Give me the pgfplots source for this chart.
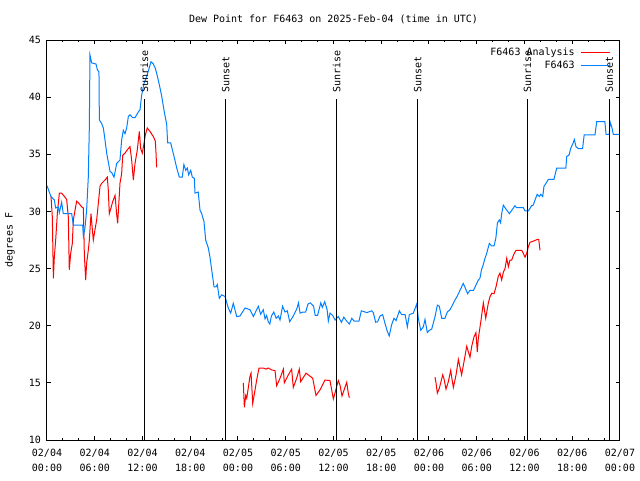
\documentclass[border=0pt]{standalone}
\usepackage{fontspec}
\setmainfont{DejaVu Sans Mono}
\usepackage{pgfplots}
\pgfplotsset{compat=1.18}
\definecolor{gpred}{RGB}{255,0,0}
\definecolor{gpblue}{RGB}{0,128,255}
\newcommand{\gpfont}{\fontsize{7.5pt}{9.75pt}\selectfont}
\begin{document}
\begin{tikzpicture}[font=\gpfont]
\path[use as bounding box] (0,0) rectangle (480pt,360pt);
\begin{axis}[
  at={(35.25pt,30pt)}, anchor=south west,
  scale only axis, width=429.75pt, height=300pt,
  xmin=0, xmax=72, ymin=10, ymax=45,
  xtick={0,6,...,72},
  minor xtick={2,4,8,10,14,16,20,22,26,28,32,34,38,40,44,46,50,52,56,58,62,64,68,70},
  xticklabels={{02/04\\[1.5pt]00:00},{02/04\\[1.5pt]06:00},{02/04\\[1.5pt]12:00},{02/04\\[1.5pt]18:00},{02/05\\[1.5pt]00:00},{02/05\\[1.5pt]06:00},{02/05\\[1.5pt]12:00},{02/05\\[1.5pt]18:00},{02/06\\[1.5pt]00:00},{02/06\\[1.5pt]06:00},{02/06\\[1.5pt]12:00},{02/06\\[1.5pt]18:00},{02/07\\[1.5pt]00:00}},
  xticklabel style={align=center, font=\gpfont, yshift=-3.5pt},
  yticklabel style={font=\gpfont, xshift=-1pt},
  ytick={10,15,...,45},
  /pgf/number format/assume math mode=true,
  tick align=inside,
  major tick length=3pt, minor tick length=1.5pt,
  tick style={black, line width=0.75pt},
  axis line style={black, line width=0.75pt},
  title={Dew Point for F6463 on 2025-Feb-04 (time in UTC)},
  title style={at={(0.5,1)}, anchor=center, yshift=9.75pt, font=\gpfont},
  ylabel={degrees F},
  ylabel style={at={(axis description cs:0,0.5)}, anchor=center, yshift=27.75pt, font=\gpfont},
  legend style={draw=none, fill=none, at={(rel axis cs:1,1)}, anchor=north east,
    xshift=-3.75pt, yshift=-2pt, row sep=0pt, column sep=3pt, font=\gpfont,
    nodes={inner sep=1.5pt}},
  legend cell align=right,
  legend plot pos=right,
  legend image code/.code={\draw[#1] (0pt,0pt) -- (21.75pt,0pt);},
  unbounded coords=jump,
]
\addplot[gpred, line width=0.75pt] coordinates {
(0.50,31.35) (0.67,29.5) (0.80,24.15) (0.92,26.0) (1.09,27.5) (1.30,29.8) (1.55,31.6) (1.84,31.6) (2.14,31.35) (2.47,31.06) (2.68,29.5) (2.80,24.9) (2.97,26.3) (3.18,27.2) (3.31,29.25) (3.52,30.1) (3.73,30.9) (4.02,30.7) (4.36,30.4) (4.57,30.3) (4.69,26.3) (4.86,24.0) (4.98,25.46) (5.19,26.6) (5.32,27.5) (5.53,29.8) (5.70,28.4) (5.82,27.5) (6.03,28.4) (6.24,29.25) (6.45,30.7) (6.66,32.2) (6.87,32.46) (7.29,32.75) (7.58,33.0) (7.70,31.9) (7.83,29.8) (8.04,30.3) (8.25,30.85) (8.55,31.4) (8.76,29.7) (8.88,28.95) (9.05,31.0) (9.17,32.46) (9.38,33.3) (9.51,34.9) (9.80,35.1) (10.10,35.4) (10.43,35.67) (10.64,34.5) (10.85,32.75) (11.06,34.2) (11.35,35.4) (11.60,37.0) (11.77,35.5) (11.98,35.1) (12.19,35.96) (12.36,36.7) (12.60,37.3) (12.94,37.0) (13.36,36.55) (13.61,36.16) (13.70,35.1) (13.78,33.85)
(14.0,nan)
(24.67,15.0) (24.80,12.85) (24.97,13.9) (25.10,13.65) (25.50,15.55) (25.64,15.85) (25.85,13.2) (26.14,14.38) (26.35,15.25) (26.64,16.3) (27.18,16.3) (27.52,16.2) (27.81,16.3) (28.23,16.13) (28.65,16.07) (28.86,14.75) (29.28,15.4) (29.70,16.2) (29.82,15.0) (30.33,15.7) (30.74,16.2) (30.95,14.6) (31.37,15.4) (31.70,16.2) (31.88,15.1) (32.55,15.85) (32.84,15.7) (33.39,15.4) (33.80,13.9) (34.30,14.38) (34.93,15.25) (35.56,15.2) (35.98,13.6) (36.19,14.1) (36.40,14.67) (36.60,15.2) (36.82,14.8) (37.07,13.85) (37.66,15.05) (37.86,14.1) (37.99,13.7)
(40.0,nan)
(48.76,15.5) (48.88,15.0) (49.05,14.1) (49.30,14.53) (49.47,15.0) (49.72,15.7) (49.89,15.34) (50.14,14.45) (50.43,15.1) (50.73,16.1) (50.85,15.5) (51.06,14.6) (51.40,15.7) (51.69,17.05) (51.90,16.36) (52.10,15.7) (52.40,16.86) (52.74,18.2) (52.94,17.73) (53.15,17.24) (53.37,18.2) (53.66,19.04) (53.90,19.4) (54.07,17.7) (54.20,18.9) (54.50,20.3) (54.83,22.0) (55.13,20.65) (55.46,22.0) (55.67,22.55) (55.88,22.84) (56.17,22.8) (56.42,23.4) (56.70,24.3) (56.92,24.6) (57.13,24.0) (57.34,24.68) (57.55,25.0) (57.77,25.9) (57.97,25.17) (58.18,25.75) (58.39,25.75) (58.68,26.28) (58.94,26.6) (59.65,26.6) (59.85,26.33) (60.07,26.0) (60.28,26.33) (60.48,26.9) (60.69,27.3) (61.11,27.4) (61.60,27.55) (61.79,27.55) (61.95,26.6)
};
\addlegendentry{F6463 Analysis}
\addplot[gpblue, line width=0.75pt] coordinates {
(0.00,32.25) (0.50,31.3) (0.92,31.0) (1.09,30.3) (1.42,30.4) (1.55,29.9) (1.84,30.8) (2.05,29.8) (3.10,29.8) (3.31,28.8) (4.48,28.8) (4.57,27.8) (4.78,28.6) (4.98,30.1) (5.19,33.0) (5.32,37.4) (5.40,43.7) (5.61,43.0) (6.16,42.9) (6.33,42.4) (6.53,42.2) (6.58,38.0) (6.87,37.7) (7.08,37.3) (7.29,36.25) (7.50,35.1) (7.92,33.5) (8.13,33.4) (8.42,33.0) (8.76,34.2) (9.17,34.5) (9.38,36.25) (9.59,37.1) (9.80,36.8) (10.01,37.3) (10.22,38.3) (10.43,38.45) (10.77,38.2) (11.06,38.2) (11.47,38.7) (11.69,38.9) (11.90,40.2) (12.19,41.2) (12.53,41.8) (13.07,43.1) (13.36,42.9) (13.57,42.6) (13.78,42.1) (14.11,41.1) (14.41,40.1) (14.74,38.7) (15.04,37.6) (15.16,36.0) (15.54,36.0) (15.75,35.4) (16.00,34.7) (16.30,33.8) (16.63,33.0) (17.00,33.0) (17.20,34.1) (17.43,33.6) (17.63,33.8) (17.80,33.2) (18.06,33.6) (18.26,33.0) (18.51,32.9) (18.60,31.6) (19.00,31.7) (19.23,30.1) (19.44,29.8) (19.73,29.1) (19.94,27.5) (20.27,26.8) (20.48,26.0) (20.69,24.9) (20.99,23.4) (21.24,23.4) (21.40,23.6) (21.65,22.4) (21.95,22.7) (22.37,22.55) (22.78,21.55) (23.08,21.1) (23.41,21.96) (23.84,20.8) (24.25,20.85) (24.88,21.55) (25.51,21.4) (25.93,20.8) (26.55,21.7) (26.85,21.0) (27.18,21.4) (27.40,20.6) (27.60,20.9) (27.80,20.35) (28.00,20.15) (28.20,20.85) (28.50,21.2) (28.80,20.65) (29.07,20.85) (29.28,20.5) (29.60,21.7) (29.90,21.2) (30.20,21.3) (30.50,20.35) (30.95,20.85) (31.40,21.5) (31.60,22.0) (31.80,21.1) (32.20,21.2) (32.50,21.2) (32.80,21.9) (33.10,22.0) (33.50,21.7) (33.70,20.9) (34.00,20.9) (34.40,22.0) (34.60,21.6) (34.90,22.1) (35.20,21.4) (35.35,20.4) (35.56,21.1) (35.90,20.9) (36.20,20.5) (36.60,20.8) (37.00,20.3) (37.30,20.75) (37.66,20.4) (38.00,20.15) (38.30,20.65) (38.60,20.4) (39.20,20.4) (39.50,21.3) (40.20,21.15) (40.80,21.3) (41.00,21.15) (41.30,20.3) (41.55,20.35) (41.85,20.85) (42.18,20.97) (42.47,20.2) (42.77,19.5) (43.00,19.1) (43.30,20.07) (43.60,20.65) (43.86,20.45) (44.28,21.3) (44.57,20.97) (45.00,20.97) (45.28,19.9) (45.53,20.97) (46.03,21.1) (46.46,21.9) (46.66,20.65) (46.96,19.6) (47.29,19.9) (47.50,20.55) (47.79,19.4) (48.04,19.6) (48.34,19.7) (48.76,20.8) (49.05,21.8) (49.30,21.7) (49.60,20.65) (50.00,20.65) (50.30,21.2) (50.64,21.4) (51.06,21.96) (51.27,22.25) (51.56,22.6) (51.90,23.1) (52.10,23.4) (52.30,23.7) (52.50,23.4) (52.85,22.8) (53.15,23.1) (53.60,23.1) (54.20,24.0) (54.40,24.15) (54.60,24.9) (54.80,25.3) (55.04,25.9) (55.25,26.33) (55.58,27.2) (55.88,26.98) (56.17,26.98) (56.40,27.65) (56.60,29.0) (56.84,29.25) (57.00,29.0) (57.13,29.8) (57.34,30.55) (57.68,30.2) (58.10,29.8) (58.40,30.1) (58.80,30.5) (59.00,30.33) (59.85,30.33) (60.07,30.04) (60.48,30.04) (60.90,30.5) (61.10,30.55) (61.32,31.0) (61.60,31.5) (61.86,31.3) (62.04,31.5) (62.29,31.3) (62.45,32.2) (62.70,32.46) (63.00,32.8) (63.70,32.8) (64.05,33.8) (65.20,33.8) (65.30,34.8) (65.60,34.94) (65.80,35.5) (66.10,35.96) (66.26,36.3) (66.47,35.67) (66.76,35.5) (67.30,35.5) (67.50,36.7) (68.86,36.7) (69.07,37.85) (70.10,37.85) (70.25,36.75) (70.66,36.75) (70.75,37.85) (70.96,37.4) (71.16,36.75) (71.90,36.75)
};
\addlegendentry{F6463}
% sunrise / sunset markers
\addplot[black, line width=0.75pt, forget plot] coordinates {(12.23,10) (12.23,39.8)};
\addplot[black, line width=0.75pt, forget plot] coordinates {(22.45,10) (22.45,39.8)};
\addplot[black, line width=0.75pt, forget plot] coordinates {(36.4,10) (36.4,39.8)};
\addplot[black, line width=0.75pt, forget plot] coordinates {(46.58,10) (46.58,39.8)};
\addplot[black, line width=0.75pt, forget plot] coordinates {(60.35,10) (60.35,39.8)};
\addplot[black, line width=0.75pt, forget plot] coordinates {(70.66,10) (70.66,39.8)};
\node[rotate=90, anchor=west, inner sep=0pt, font=\gpfont] at (axis cs:12.23,40.4) {Sunrise};
\node[rotate=90, anchor=west, inner sep=0pt, font=\gpfont] at (axis cs:22.45,40.4) {Sunset};
\node[rotate=90, anchor=west, inner sep=0pt, font=\gpfont] at (axis cs:36.4,40.4) {Sunrise};
\node[rotate=90, anchor=west, inner sep=0pt, font=\gpfont] at (axis cs:46.58,40.4) {Sunset};
\node[rotate=90, anchor=west, inner sep=0pt, font=\gpfont] at (axis cs:60.35,40.4) {Sunrise};
\node[rotate=90, anchor=west, inner sep=0pt, font=\gpfont] at (axis cs:70.66,40.4) {Sunset};
\end{axis}
\end{tikzpicture}
\end{document}
